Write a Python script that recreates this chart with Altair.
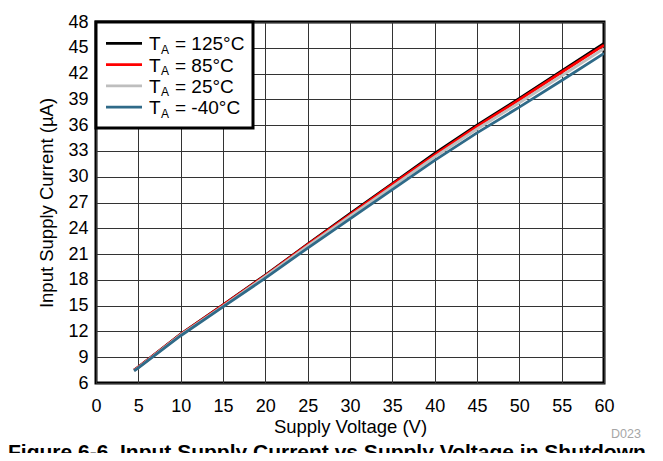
import altair as alt
import pandas as pd

# ---- data ----
voltage = [4.5, 5, 10, 15, 20, 25, 30, 35, 40, 45, 50, 55, 60]
i_125 = [7.5, 7.85, 11.7, 15.1, 18.55, 22.15, 25.7, 29.2, 32.7, 36.0, 39.1, 42.3, 45.5]
i_85 = [7.5, 7.85, 11.65, 15.05, 18.5, 22.1, 25.6, 29.1, 32.55, 35.85, 38.95, 42.15, 45.3]
i_25 = [7.45, 7.8, 11.6, 14.95, 18.4, 21.95, 25.4, 28.85, 32.3, 35.55, 38.6, 41.75, 44.9]
i_m40 = [7.4, 7.75, 11.5, 14.85, 18.2, 21.7, 25.1, 28.5, 31.9, 35.1, 38.1, 41.2, 44.35]

series_temps = ["125°C", "85°C", "25°C", "-40°C"]
series_values = [i_125, i_85, i_25, i_m40]
series_colors = ["#000000", "#ff0000", "#bebebe", "#2f6a88"]

x_ticks = list(range(0, 61, 5))
y_ticks = list(range(6, 49, 3))

FONT = "Liberation Sans"
W, H = 508, 361

xscale = alt.Scale(domain=[0, 60], nice=False)
yscale = alt.Scale(domain=[6, 48], nice=False)

layers = []
for temp, vals, col in zip(series_temps, series_values, series_colors):
    df = pd.DataFrame({"V": voltage, "I": vals})
    layers.append(
        alt.Chart(df).mark_line(color=col, strokeWidth=2.8, clip=True).encode(
            x=alt.X("V:Q", scale=xscale,
                    axis=alt.Axis(values=x_ticks, title="Supply Voltage (V)", grid=True,
                                  labelFlush=False, labelPadding=14, titlePadding=2)),
            y=alt.Y("I:Q", scale=yscale,
                    axis=alt.Axis(values=y_ticks, title="Input Supply Current (µA)", grid=True,
                                  labelFlush=False, labelPadding=8, titlePadding=11)),
        )
    )

one = pd.DataFrame({"a": [0]})

# legend box
legend_box = alt.Chart(one).mark_rect(fill="white", stroke="black", strokeWidth=3).encode(
    x=alt.value(0), x2=alt.value(157), y=alt.value(0), y2=alt.value(106)
)
layers.append(legend_box)

row_h = 21.3
for i, (temp, col) in enumerate(zip(series_temps, series_colors)):
    yy = row_h * (i + 1)
    layers.append(alt.Chart(one).mark_rule(color=col, strokeWidth=2.8).encode(
        x=alt.value(10), x2=alt.value(46), y=alt.value(yy)))
    layers.append(alt.Chart(one).mark_text(text="T", font=FONT, fontSize=19, align="left",
                                           baseline="alphabetic", color="black").encode(
        x=alt.value(53), y=alt.value(yy + 7)))
    layers.append(alt.Chart(one).mark_text(text="A", font=FONT, fontSize=12, align="left",
                                           baseline="alphabetic", color="black").encode(
        x=alt.value(65), y=alt.value(yy + 10.5)))
    layers.append(alt.Chart(one).mark_text(text="= " + temp, font=FONT, fontSize=19, align="left",
                                           baseline="alphabetic", color="black").encode(
        x=alt.value(79), y=alt.value(yy + 7)))

# figure id and caption
layers.append(alt.Chart(one).mark_text(text="D023", font=FONT, fontSize=12.5, align="left",
                                       baseline="alphabetic", color="#a6a6a6").encode(
    x=alt.value(515), y=alt.value(416)))
layers.append(alt.Chart(one).mark_text(
    text="Figure 6-6. Input Supply Current vs Supply Voltage in Shutdown",
    font=FONT, fontSize=21, fontWeight="bold", align="left",
    baseline="alphabetic", color="black").encode(
    x=alt.value(-88), y=alt.value(437)))

chart = alt.layer(*layers).properties(
    width=W, height=H,
    autosize=alt.AutoSizeParams(type="none"),
    padding={"left": 88, "top": 14, "right": 51, "bottom": 70},
    background="white",
).configure_view(
    stroke="black", strokeWidth=3
).configure_axis(
    labelFont=FONT, labelFontSize=18, labelColor="black",
    titleFont=FONT, titleFontSize=18.5, titleFontWeight="normal", titleColor="black",
    gridColor="#333333", gridWidth=1, gridOpacity=1,
    domain=False, ticks=False,
)

chart.save("out.html", embed_options={"renderer": "svg", "actions": False})
